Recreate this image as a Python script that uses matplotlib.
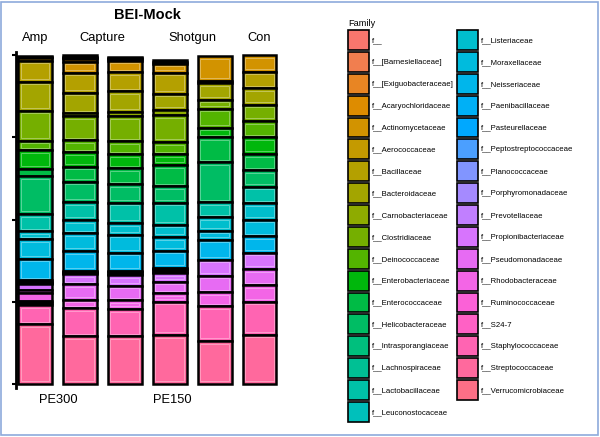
import numpy as np
import matplotlib
matplotlib.use("Agg")
import matplotlib.pyplot as plt
import matplotlib.transforms as mtransforms
from matplotlib.patches import Patch, Rectangle

plt.rcParams['font.family'] = ['Liberation Sans', 'DejaVu Sans']

# Families (legend order, first level is stacked on top)
families = [
    "f__", "f__[Barnesiellaceae]", "f__[Exiguobacteraceae]", "f__Acaryochloridaceae",
    "f__Actinomycetaceae", "f__Aerococcaceae", "f__Bacillaceae", "f__Bacteroidaceae",
    "f__Carnobacteriaceae", "f__Clostridiaceae", "f__Deinococcaceae", "f__Enterobacteriaceae",
    "f__Enterococcaceae", "f__Helicobacteraceae", "f__Intrasporangiaceae", "f__Lachnospiraceae",
    "f__Lactobacillaceae", "f__Leuconostocaceae", "f__Listeriaceae", "f__Moraxellaceae",
    "f__Neisseriaceae", "f__Paenibacillaceae", "f__Pasteurellaceae", "f__Peptostreptococcaceae",
    "f__Planococcaceae", "f__Porphyromonadaceae", "f__Prevotellaceae", "f__Propionibacteriaceae",
    "f__Pseudomonadaceae", "f__Rhodobacteraceae", "f__Ruminococcaceae", "f__S24-7",
    "f__Staphylococcaceae", "f__Streptococcaceae", "f__Verrucomicrobiaceae",
]

# relative abundance per sample, same order as families
amp = [0.003, 0, 0.002, 0.002, 0.008, 0, 0.064, 0.089, 0, 0.091, 0.029, 0.057,
       0.021, 0.116, 0, 0, 0.052, 0, 0.025, 0.059, 0.066, 0.004, 0.004, 0.002,
       0, 0.002, 0, 0.017, 0.010, 0.023, 0.007, 0.006, 0.058, 0.182, 0]
capture1 = [0.004, 0.003, 0.005, 0.008, 0.033, 0, 0.061, 0.063, 0.008, 0.073, 0.037, 0.044,
            0.046, 0.061, 0, 0, 0.055, 0, 0.040, 0.054, 0.061, 0.004, 0.003, 0,
            0.003, 0, 0, 0.030, 0.048, 0.026, 0, 0, 0.085, 0.145, 0]
capture2 = [0.004, 0, 0.004, 0.005, 0.035, 0, 0.058, 0.061, 0.014, 0.077, 0.039, 0.043,
            0.048, 0.056, 0, 0, 0.062, 0, 0.036, 0.054, 0.056, 0.004, 0.004, 0,
            0.004, 0, 0, 0.033, 0.044, 0.027, 0, 0, 0.083, 0.145, 0]
shotgun1 = [0.006, 0, 0, 0.006, 0.028, 0, 0.064, 0.048, 0.017, 0.082, 0.037, 0.033,
            0.064, 0.050, 0, 0, 0.067, 0, 0.038, 0.041, 0.053, 0.003, 0.004, 0.005,
            0.003, 0, 0, 0.027, 0.035, 0.026, 0, 0, 0.101, 0.149, 0]
shotgun2 = [0, 0, 0, 0, 0.074, 0, 0.008, 0.050, 0, 0.028, 0.057, 0.029,
            0.076, 0.122, 0, 0, 0.046, 0, 0.040, 0.028, 0.061, 0, 0, 0,
            0, 0, 0, 0.048, 0.051, 0.043, 0, 0, 0.105, 0.131, 0]
con = [0, 0, 0, 0, 0.05, 0, 0.05, 0.05, 0, 0.05, 0.05, 0.05,
       0.05, 0.05, 0, 0, 0.05, 0, 0.05, 0.05, 0.05, 0, 0, 0,
       0, 0, 0, 0.05, 0.05, 0.05, 0, 0, 0.10, 0.15, 0]

samples = [amp, capture1, capture2, shotgun1, shotgun2, con]
facet_labels = ["Amp", "Capture", "Shotgun", "Con"]
facet_centers = [0, 1.5, 3.5, 5]
run_labels = ["PE300", "PE150"]
run_centers = [0.51, 3.05]


def hue_pal(n, c=100, l=65):
    # ggplot2 default hue palette (polar LUV -> sRGB, like grDevices::hcl)
    hues = np.linspace(15, 375, n + 1)[:-1]
    wy, wu, wv = 100.0, 0.1978398, 0.4683363

    def gtrans(u):
        return 1.055 * u ** (1 / 2.4) - 0.055 if u > 0.00304 else 12.92 * u

    cols = []
    for h in hues:
        hr = np.radians(h)
        U, V = c * np.cos(hr), c * np.sin(hr)
        Y = wy * ((l + 16) / 116) ** 3
        u = U / (13 * l) + wu
        v = V / (13 * l) + wv
        X = 9.0 * Y * u / (4 * v)
        Z = -X / 3 - 5 * Y + 3 * Y / v
        r = gtrans((3.240479 * X - 1.537150 * Y - 0.498535 * Z) / wy)
        g = gtrans((-0.969256 * X + 1.875992 * Y + 0.041556 * Z) / wy)
        b = gtrans((0.055648 * X - 0.204043 * Y + 1.057311 * Z) / wy)
        cols.append(tuple(min(max(x, 0), 1) for x in (r, g, b)))
    return cols


def lighter(c, f=0.35):
    return tuple(x + (1 - x) * f for x in c)


colors = hue_pal(len(families))
data = np.array(samples)          # samples x families
xs = np.arange(len(samples))
width = 0.757

fig = plt.figure(figsize=(6, 4.37), dpi=100)
ax = fig.add_axes([16 / 600, 49 / 437, 269 / 600, 336 / 437])

# inset of the light inner outline, in data units
dx, dy = 2.6 / 44.9, 2.6 / 329

# first family on top -> bottom is the sum of all later families
for i, fam in enumerate(families):
    vals = data[:, i]
    bottoms = data[:, i + 1:].sum(axis=1)
    keep = vals > 0
    if not keep.any():
        continue
    ax.bar(xs[keep], vals[keep], width, bottom=bottoms[keep], color=colors[i],
           edgecolor="black", linewidth=1.8)
    inner = vals > 3 * dy
    if inner.any():
        ax.bar(xs[inner], vals[inner] - 2 * dy, width - 2 * dx,
               bottom=bottoms[inner] + dy, facecolor="none",
               edgecolor=lighter(colors[i]), linewidth=0.7)

ax.set_xlim(-0.423, 5.568)
ax.set_ylim(-0.012, 1.01)
ax.set_yticks([0, 0.25, 0.5, 0.75, 1])
ax.set_yticklabels([])
ax.set_xticks([])
ax.tick_params(axis="y", length=3, width=1.5, color="black")
for side in ["top", "right", "bottom"]:
    ax.spines[side].set_visible(False)
ax.spines["left"].set_linewidth(2)
ax.patch.set_visible(False)

# strip labels and run labels
trans = mtransforms.blended_transform_factory(ax.transData, fig.transFigure)
for lab, xc in zip(facet_labels, facet_centers):
    ax.text(xc, 1 - 38 / 437, lab, transform=trans, ha="center", va="center", fontsize=9.3)
for lab, xc in zip(run_labels, run_centers):
    ax.text(xc, 1 - 400 / 437, lab, transform=trans, ha="center", va="center", fontsize=9.3)
fig.text(147.5 / 600, 1 - 15 / 437, "BEI-Mock", ha="center", va="center",
         fontsize=10.5, fontweight="bold")

handles = [Patch(facecolor=c, edgecolor="black", linewidth=1.2) for c in colors]
leg = fig.legend(handles, families, ncol=2, loc="upper left",
                 bbox_to_anchor=(348 / 600, 1 - 19 / 437), frameon=False,
                 title="Family", fontsize=5.6, title_fontsize=6.6,
                 handlelength=2.7, handleheight=3.55, labelspacing=0.26,
                 handletextpad=0.39, columnspacing=0.39, borderpad=0,
                 borderaxespad=0, alignment="left")

fig.patches.append(Rectangle((1 / 600, 2 / 437), 597 / 600, 433 / 437,
                             transform=fig.transFigure, fill=False,
                             edgecolor="#8eaadb", linewidth=1.2))

fig.savefig("out.png", dpi=100)
